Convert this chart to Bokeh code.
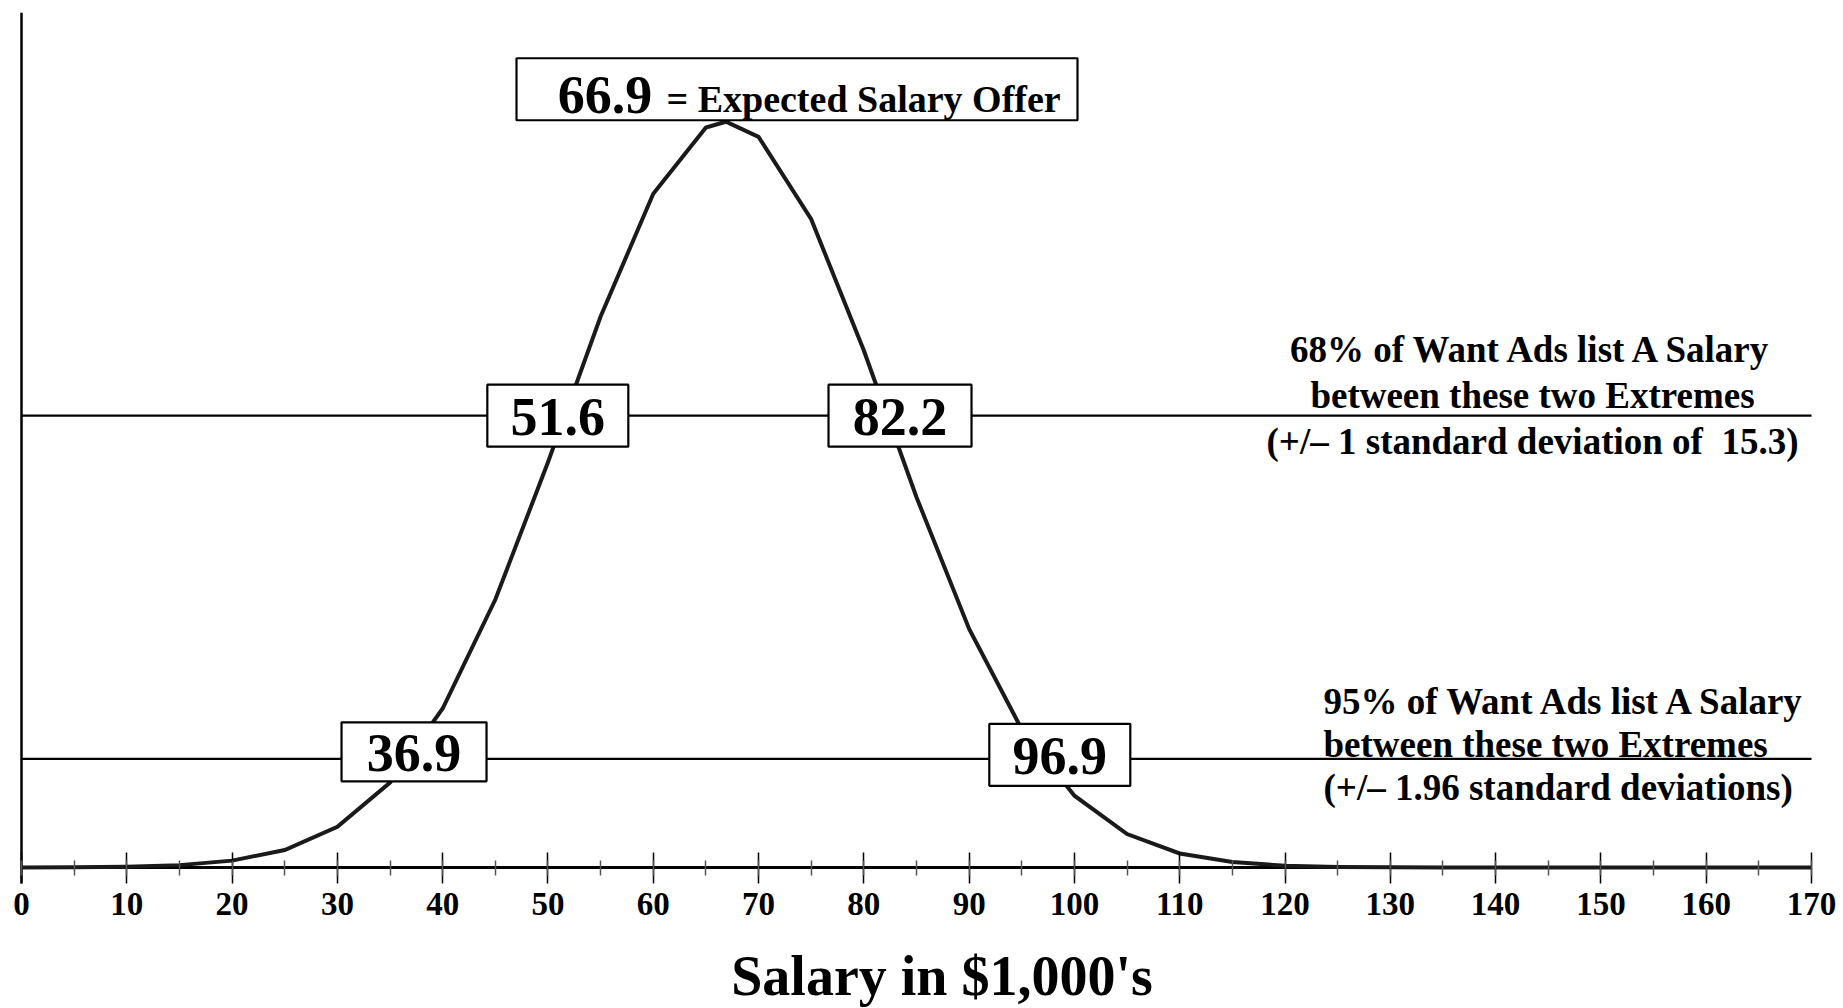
from bokeh.plotting import figure
from bokeh.models import ColumnDataSource, SingleIntervalTicker, Range1d
from bokeh.core.properties import value
from bokeh.embed import file_html
from bokeh.resources import INLINE

# ---- data ----
salary = [0, 5, 10, 15, 20, 25, 30, 35, 40, 45, 50, 55, 60, 65, 66.9,
          70, 75, 80, 85, 90, 95, 100, 105, 110, 115, 120, 125, 130,
          135, 140, 145, 150, 155, 160, 165, 170]
density = [0.000002, 0.000007, 0.000026, 0.000083, 0.00024, 0.00061, 0.00142,
           0.00297, 0.00556, 0.00937, 0.01417, 0.01927, 0.02356, 0.02588, 0.02608,
           0.02555, 0.02267, 0.01808, 0.01295, 0.00834, 0.00483, 0.00251, 0.00117,
           0.00049, 0.00019, 0.00006, 0.00002, 0.00001,
           0.0, 0.0, 0.0, 0.0, 0.0, 0.0, 0.0, 0.0]

mean_salary = 66.9
band_values = ["51.6", "82.2", "36.9", "96.9"]
band_x = [51.6, 82.2, 36.9, 96.9]
band_levels = [0.0158, 0.0158, 0.0038, 0.0038]     # heights of the two range lines
line_levels = [0.0158, 0.0038]

note68 = ["68% of Want Ads list A Salary",
          "between these two Extremes",
          "(+/\u2013 1 standard deviation of\u00a0 15.3)"]
note95 = ["95% of Want Ads list A Salary",
          "between these two Extremes",
          "(+/\u2013 1.96 standard deviations)"]
x_title = "Salary in $1,000's"

# ---- layout ----
X0, X1 = 0, 170
YMAX = 0.0299
PXU = 1790 / (X1 - X0)          # pixels per $1,000
PX_X = 1 / PXU
PX_Y = YMAX / 855               # data units per pixel vertically
ORIGIN_X, AXIS_PX = 21, 867     # page position of (0, 0)
TOP = 12
LEFT = 11
RIGHT_PAGE = 1840
BOTTOM_PAGE = 1008
FW = RIGHT_PAGE - LEFT
FH = BOTTOM_PAGE - TOP
XL = -(ORIGIN_X - LEFT) * PX_X
XR = (RIGHT_PAGE - ORIGIN_X) * PX_X
YMIN = -(BOTTOM_PAGE - AXIS_PX) * PX_Y


def page_y(py):
    return (AXIS_PX - py) * PX_Y


def page_x(px):
    return (px - ORIGIN_X) * PX_X


FONT = value("Liberation Serif")

p = figure(width=RIGHT_PAGE + 2, height=BOTTOM_PAGE, frame_width=FW, frame_height=FH,
           x_range=Range1d(XL, XR), y_range=Range1d(YMIN, YMAX),
           output_backend="svg", toolbar_location=None,
           min_border_left=LEFT, min_border_right=2, min_border_top=TOP,
           min_border_bottom=0)
p.outline_line_color = None
p.xgrid.visible = False
p.ygrid.visible = False
p.yaxis.visible = False
p.background_fill_color = "white"
p.border_fill_color = "white"

ax = p.xaxis[0]
ax.fixed_location = 0
ax.ticker = SingleIntervalTicker(interval=10, num_minor_ticks=2)
ax.axis_line_color = None
ax.major_tick_in = 15
ax.major_tick_out = 16
ax.major_tick_line_width = 1.5
ax.major_tick_line_color = "black"
ax.minor_tick_in = 7
ax.minor_tick_out = 8
ax.minor_tick_line_width = 1.5
ax.minor_tick_line_color = "#555555"
ax.major_label_text_font = "Liberation Serif"
ax.major_label_text_font_style = "bold"
ax.major_label_text_font_size = "33px"
ax.major_label_text_color = "black"
ax.major_label_standoff = 9

# x axis title (the reference places it right of centre)
p.text(x=[page_x(941.5)], y=[page_y(975)], text=[x_title], text_font=FONT,
       text_font_style="bold", text_font_size="56px", text_align="center",
       text_baseline="middle", text_color="black")

# axis lines (x axis from 0 to 170, y axis from just below 0 to the top)
p.segment(x0=[X0], y0=[0], x1=[X1], y1=[0], line_color="black", line_width=3)
p.segment(x0=[X0], y0=[-16 * PX_Y], x1=[X0], y1=[YMAX], line_color="black", line_width=2.5)

# range lines
p.segment(x0=[X0] * 2, x1=[X1] * 2, y0=line_levels, y1=line_levels,
          line_color="black", line_width=2.2)

# curve
p.line(salary, density, line_color="#1a1a1a", line_width=4, line_join="miter")

# value boxes
box_shift = [-7, 13, 4, 18]          # px
box_dy = [0, 0, 7, 4]                # px
box_w = [141, 143, 145, 141]
box_h = [62, 62, 59, 62]
src = ColumnDataSource(dict(
    x=[bx + s * PX_X for bx, s in zip(band_x, box_shift)],
    y=[lv + d * PX_Y for lv, d in zip(band_levels, box_dy)],
    w=box_w, h=box_h, t=band_values))
p.rect(x="x", y="y", width="w", height="h", width_units="screen", height_units="screen",
       fill_color="white", line_color="black", line_width=2.2, source=src)
p.text(x="x", y="y", text="t", source=src, text_font=FONT, text_font_style="bold",
       text_font_size="54px", text_align="center", text_baseline="middle",
       text_color="black", y_offset=1)

# top box
peak = max(density)
p.rect(x=[page_x(796.5)], y=[peak + 32.5 * PX_Y], width=561, height=62,
       width_units="screen", height_units="screen",
       fill_color="white", line_color="black", line_width=2.2)
p.text(x=[page_x(604.5)], y=[peak + 26.6 * PX_Y], text=[f"{mean_salary}"],
       text_font=FONT, text_font_style="bold", text_font_size="54px",
       text_align="center", text_baseline="middle", text_color="black")
p.text(x=[page_x(666)], y=[peak + 22.5 * PX_Y], text=["= Expected Salary Offer"],
       text_font=FONT, text_font_style="bold", text_font_size="38px",
       text_align="left", text_baseline="middle", text_color="black")

# notes
mid68 = [349, 394.5, 440.5]   # page y of line centres
mid95 = [700.5, 744, 786.5]
p.text(x=[page_x(1532)] * 3, y=[page_y(m) for m in mid68], text=note68,
       text_font=FONT, text_font_style="bold", text_font_size="37px",
       text_align="center", text_baseline="middle", text_color="black")
p.text(x=[page_x(1323)] * 3, y=[page_y(m) for m in mid95], text=note95,
       text_font=FONT, text_font_style="bold", text_font_size="37px",
       text_align="left", text_baseline="middle", text_color="black")

open("out.html", "w").write(file_html(p, INLINE))
